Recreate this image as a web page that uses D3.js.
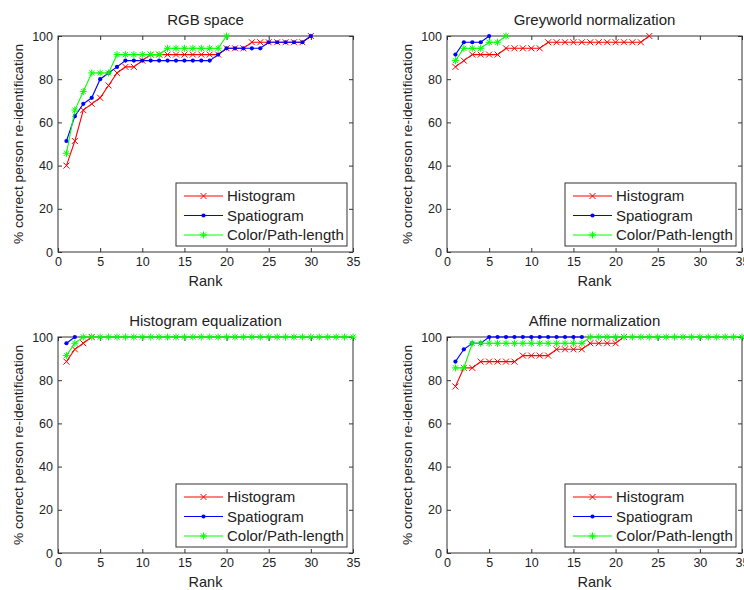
<!DOCTYPE html>
<html>
<head>
<meta charset="utf-8">
<script src="https://cdn.jsdelivr.net/npm/d3@7"></script>
<style>
  body { margin: 0; background: #fff; }
  text { font-family: "Liberation Sans", Arial, sans-serif; fill: #222; }
</style>
</head>
<body>
<svg id="fig" width="744" height="590"></svg>
<script>
// values are % correct at rank 1, 2, 3 ...
var seriesNames = ['Histogram', 'Spatiogram', 'Color/Path-length'];
var panelTitles = ['RGB space', 'Greyworld normalization', 'Histogram equalization', 'Affine normalization'];
var xTicks = [0, 5, 10, 15, 20, 25, 30, 35];
var yTicks = [0, 20, 40, 60, 80, 100];

var rgbHist = [40, 51.4, 65.7, 68.6, 71.4, 77.1, 82.9, 85.7, 85.7, 88.6, 91.4, 91.4, 91.4, 91.4, 91.4, 91.4, 91.4, 91.4, 91.4, 94.3, 94.3, 94.3, 97.1, 97.1, 97.1, 97.1, 97.1, 97.1, 97.1, 100];
var rgbSpat = [51.4, 62.9, 68.6, 71.4, 80, 82.9, 85.7, 88.6, 88.6, 88.6, 88.6, 88.6, 88.6, 88.6, 88.6, 88.6, 88.6, 88.6, 91.4, 94.3, 94.3, 94.3, 94.3, 94.3, 97.1, 97.1, 97.1, 97.1, 97.1, 100];
var rgbColor = [45.7, 65.7, 74.3, 82.9, 82.9, 82.9, 91.4, 91.4, 91.4, 91.4, 91.4, 91.4, 94.3, 94.3, 94.3, 94.3, 94.3, 94.3, 94.3, 100];

var greyHist = [85.7, 88.6, 91.4, 91.4, 91.4, 91.4, 94.3, 94.3, 94.3, 94.3, 94.3, 97.1, 97.1, 97.1, 97.1, 97.1, 97.1, 97.1, 97.1, 97.1, 97.1, 97.1, 97.1, 100];
var greySpat = [91.4, 97.1, 97.1, 97.1, 100];
var greyColor = [88.6, 94.3, 94.3, 94.3, 97.1, 97.1, 100];

var eqHist = [88.6, 94.3, 97.1, 100];
var eqSpat = [97.1, 100];
var eqColor = [91.4, 97.1, 100, 100, 100, 100, 100, 100, 100, 100, 100, 100, 100, 100, 100, 100, 100, 100, 100, 100, 100, 100, 100, 100, 100, 100, 100, 100, 100, 100, 100, 100, 100, 100, 100];

var affHist = [77.1, 85.7, 85.7, 88.6, 88.6, 88.6, 88.6, 88.6, 91.4, 91.4, 91.4, 91.4, 94.3, 94.3, 94.3, 94.3, 97.1, 97.1, 97.1, 97.1, 100];
var affSpat = [88.6, 94.3, 97.1, 97.1, 100, 100, 100, 100, 100, 100, 100, 100, 100, 100, 100, 100];
var affColor = [85.7, 85.7, 97.1, 97.1, 97.1, 97.1, 97.1, 97.1, 97.1, 97.1, 97.1, 97.1, 97.1, 97.1, 97.1, 97.1, 100, 100, 100, 100, 100, 100, 100, 100, 100, 100, 100, 100, 100, 100, 100, 100, 100, 100, 100];

var panelData = [
    [rgbHist, rgbSpat, rgbColor],
    [greyHist, greySpat, greyColor],
    [eqHist, eqSpat, eqColor],
    [affHist, affSpat, affColor]
];

var colors = ['#ff0000', '#0000ff', '#00ff00'];
var markers = ['x', 'dot', 'star'];

// axes placement (left, top) of each panel
var panelPos = [[58, 36], [447, 36], [58, 337], [447, 337]];
var axW = 295, axH = 216;

var svg = d3.select('#fig');

function drawMarker(g, type, cx, cy, color) {
    if (type == 'x') {
        var s = 3;
        g.append('path').attr('d', 'M' + (cx - s) + ',' + (cy - s) + 'L' + (cx + s) + ',' + (cy + s) +
            'M' + (cx - s) + ',' + (cy + s) + 'L' + (cx + s) + ',' + (cy - s))
            .attr('stroke', color).attr('stroke-width', 1).attr('fill', 'none');
    } else if (type == 'dot') {
        g.append('circle').attr('cx', cx).attr('cy', cy).attr('r', 2.1).attr('fill', color);
    } else {
        var s2 = 3.5, d = 2.6;
        g.append('path').attr('d', 'M' + (cx - s2) + ',' + cy + 'L' + (cx + s2) + ',' + cy +
            'M' + cx + ',' + (cy - s2) + 'L' + cx + ',' + (cy + s2) +
            'M' + (cx - d) + ',' + (cy - d) + 'L' + (cx + d) + ',' + (cy + d) +
            'M' + (cx - d) + ',' + (cy + d) + 'L' + (cx + d) + ',' + (cy - d))
            .attr('stroke', color).attr('stroke-width', 1).attr('fill', 'none');
    }
}

function drawPanel(index) {
    var left = panelPos[index][0];
    var top = panelPos[index][1];
    var g = svg.append('g').attr('transform', 'translate(' + left + ',' + top + ')');

    var x = d3.scaleLinear().domain([0, 35]).range([0, axW]);
    var y = d3.scaleLinear().domain([0, 100]).range([axH, 0]);

    // box
    g.append('rect').attr('x', 0).attr('y', 0).attr('width', axW).attr('height', axH)
        .attr('fill', 'none').attr('stroke', '#333').attr('stroke-width', 1);

    var axB = g.append('g').attr('transform', 'translate(0,' + axH + ')')
        .call(d3.axisBottom(x).tickValues(xTicks).tickSize(-4).tickPadding(5));
    var axL = g.append('g')
        .call(d3.axisLeft(y).tickValues(yTicks).tickSize(-4).tickPadding(5));
    var axT = g.append('g')
        .call(d3.axisTop(x).tickValues(xTicks).tickSize(-4).tickFormat(''));
    var axR = g.append('g').attr('transform', 'translate(' + axW + ',0)')
        .call(d3.axisRight(y).tickValues(yTicks).tickSize(-4).tickFormat(''));
    [axB, axL, axT, axR].forEach(function (a) {
        a.select('.domain').remove();
        a.selectAll('line').attr('stroke', '#333');
        a.selectAll('text').style('font-size', '12.5px').attr('fill', '#222');
    });

    // series
    var line = d3.line().x(function (d, i) { return x(i + 1); }).y(function (d) { return y(d); });
    panelData[index].forEach(function (vals, s) {
        g.append('path').datum(vals).attr('d', line)
            .attr('fill', 'none').attr('stroke', colors[s]).attr('stroke-width', 1.1);
        vals.forEach(function (v, i) {
            drawMarker(g, markers[s], x(i + 1), y(v), colors[s]);
        });
    });

    // labels
    g.append('text').attr('x', axW / 2).attr('y', -11).attr('text-anchor', 'middle')
        .style('font-size', '15px').text(panelTitles[index]);
    g.append('text').attr('x', axW / 2).attr('y', axH + 34).attr('text-anchor', 'middle')
        .style('font-size', '14.5px').text('Rank');
    g.append('text').attr('transform', 'translate(-35,' + (axH / 2) + ') rotate(-90)')
        .attr('text-anchor', 'middle').style('font-size', '13.7px')
        .text('% correct person re-identification');

    // legend
    var lg = g.append('g').attr('transform', 'translate(' + (axW - 177) + ',' + (axH - 69) + ')');
    lg.append('rect').attr('x', 0).attr('y', 0).attr('width', 171).attr('height', 63)
        .attr('fill', '#fff').attr('stroke', '#333').attr('stroke-width', 1);
    seriesNames.forEach(function (name, s) {
        var ry = 13 + s * 19.5;
        lg.append('line').attr('x1', 8).attr('x2', 47).attr('y1', ry).attr('y2', ry)
            .attr('stroke', colors[s]).attr('stroke-width', 1);
        drawMarker(lg, markers[s], 27.5, ry, colors[s]);
        lg.append('text').attr('x', 51).attr('y', ry + 5).style('font-size', '15px').text(name);
    });
}

for (var p = 0; p < 4; p++) {
    drawPanel(p);
}
</script>
</body>
</html>
